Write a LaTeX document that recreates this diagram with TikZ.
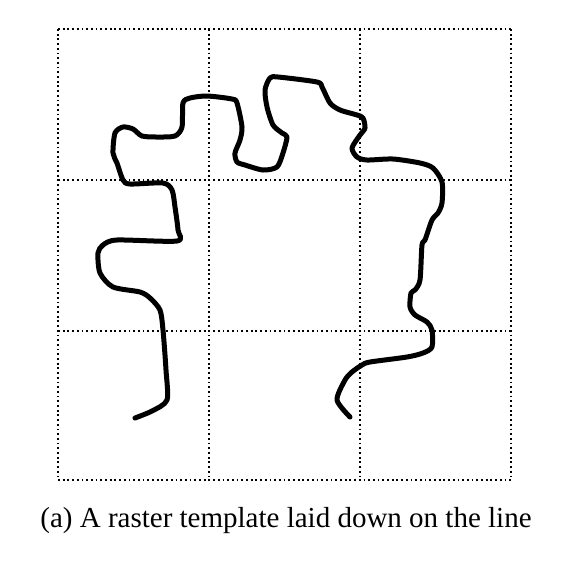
\documentclass[tikz,border=0pt]{standalone}
\usepackage{fontspec}
\setmainfont{Liberation Serif}
\usetikzlibrary{positioning}

\begin{document}
\begin{tikzpicture}[x=1pt, y=-1pt,
    gridline/.style={draw=black, line width=2.1pt, dash pattern=on 1.8pt off 2.9pt},
    strokeline/.style={draw=black, line width=5pt, line cap=round, line join=round},
    caption/.style={font=\fontsize{29}{34}\selectfont, inner sep=0pt}
  ]
    \useasboundingbox (0,0) rectangle (568,566);
    % raster template
    \foreach \x in {58,209,360,511} \draw[gridline] (\x,29) -- (\x,480);
    \foreach \y in {29,180,331,480} \draw[gridline] (58,\y) -- (511,\y);
    % the line
    \draw[strokeline] plot[smooth, tension=0.45] coordinates {
      (135,418) (152,411) (167,400) (166,370) (163,330) (160,310) (150,298) (140,292)
      (113,287) (100,273) (98,253) (103,245) (117,240) (177,241) (178,230) (175,207)
      (172,190) (163,183) (130,184) (123,180) (117,163) (113,153) (115,133) (123,127)
      (133,129) (142,136) (157,137) (175,136) (182,127) (183,103) (190,98) (207,96)
      (232,99) (237,103) (242,127) (240,140) (235,153) (237,162) (245,165) (263,170)
      (277,167) (283,153) (287,137) (282,133) (273,125) (267,107) (265,90) (270,78)
      (278,77) (317,82) (322,87) (330,103) (340,110) (357,115) (363,118) (365,128)
      (360,135) (352,148) (357,157) (367,160) (393,159) (420,163) (433,168) (442,182)
      (442,203) (438,213) (432,220) (425,240) (422,245) (420,280) (415,290) (411,293)
      (410,307) (415,315) (427,322) (432,330) (432,347) (423,353) (407,357) (370,362)
      (362,365) (352,372) (345,380) (337,400) (350,417)};
    \node[caption] (cap) at (286,521) {(a) A raster template laid down on the line};
  \end{tikzpicture}
\end{document}
